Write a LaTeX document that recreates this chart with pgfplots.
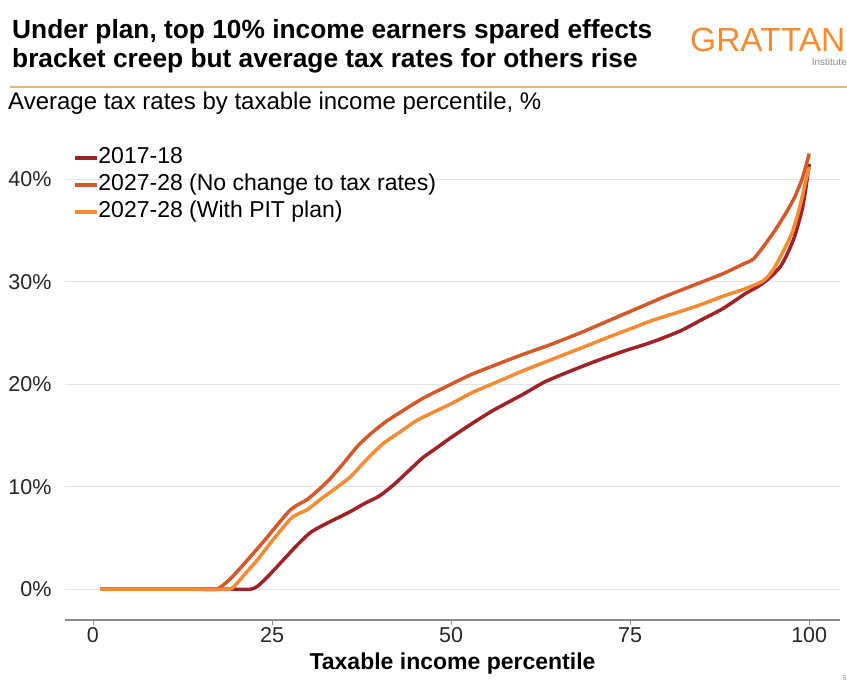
\documentclass[border=0pt]{standalone}
\usepackage{pgfplots}
\pgfplotsset{compat=1.18}
\usepackage{fontspec}
\setmainfont{Liberation Sans}
\definecolor{gred}{HTML}{A02226}
\definecolor{gdorange}{HTML}{D4582A}
\definecolor{gorange}{HTML}{F68B33}
\definecolor{grule}{HTML}{E9B56E}
\definecolor{ggrid}{HTML}{E4E4E4}
\definecolor{gaxis}{HTML}{8C8C8C}
\begin{document}
\begin{tikzpicture}
\useasboundingbox (0,0) rectangle (847bp,689bp);
% title
\node[anchor=base west, font=\fontsize{26.3bp}{30bp}\selectfont\bfseries, inner sep=0pt] at (12bp,650bp)
  {Under plan, top 10\% income earners spared effects};
\node[anchor=base west, font=\fontsize{26.3bp}{30bp}\selectfont\bfseries, inner sep=0pt] at (12bp,621bp)
  {bracket creep but average tax rates for others rise};
\node[anchor=base west, font=\fontsize{33.5bp}{34bp}\selectfont, text=gorange, inner sep=0pt] at (690bp,637bp) {GRATTAN};
\node[anchor=base east, font=\fontsize{10bp}{10bp}\selectfont, text=gaxis, inner sep=0pt] at (847bp,623bp) {Institute};
\draw[grule, line width=1.6bp] (10bp,602bp) -- (847bp,602bp);
\node[anchor=base west, font=\fontsize{24bp}{27bp}\selectfont, inner sep=0pt] at (8bp,579bp)
  {Average tax rates by taxable income percentile, \%};
\node[anchor=east, font=\fontsize{7bp}{7bp}\selectfont, text=gaxis, inner sep=0pt] at (847bp,11bp) {5};
\begin{axis}[
  at={(65bp,69bp)}, anchor=south west,
  scale only axis, width=775bp, height=492bp,
  xmin=-3.9, xmax=104.3, ymin=-3, ymax=45,
  axis x line*=bottom, axis y line*=left,
  y axis line style={draw=none},
  x axis line style={draw=gaxis, line width=1.2bp},
  xtick={0,25,50,75,100}, ytick={0,10,20,30,40},
  xtick style={draw=gaxis, line width=0.8bp},
  tick align=outside, major tick length=5bp,
  ytick style={draw=none},
  ymajorgrids, grid style={draw=ggrid, line width=0.8bp},
  yticklabel={\pgfmathprintnumber{\tick}\%},
  /pgf/number format/assume math mode=true,
  tick label style={font=\fontsize{21.5bp}{24bp}\selectfont, text=black!85},
  yticklabel style={xshift=-5bp},
  xticklabel style={yshift=1bp},
  xlabel={Taxable income percentile},
  xlabel style={at={(axis description cs:0.5,0)}, anchor=center, yshift=-44bp,
    font=\fontsize{23bp}{26bp}\selectfont\bfseries},
  legend style={at={(rel axis cs:0.01,0.962)}, anchor=north west, draw=none, fill=none,
    font=\fontsize{23bp}{26bp}\selectfont, row sep=5bp, inner sep=0pt,
    nodes={inner sep=0pt, text height=17bp, text depth=5bp},
    /tikz/every even column/.append style={column sep=3bp}},
  legend cell align=left,
  legend image code/.code={\draw[#1, line width=3.5bp] (0bp,0bp) -- (22bp,0bp);},
  every axis plot/.append style={line width=3.5bp, line join=round, smooth, tension=0.4},
]
\addplot[gred] coordinates {
(1,0) (5,0) (10,0) (15,0) (20,0) (22,0) (23,0.3) (24.5,1.3) (26.5,2.8) (28.5,4.3) (30.3,5.5) (32,6.2) (34,6.9) (36,7.6) (38,8.4) (40,9.1) (42,10.2) (44,11.5) (46,12.8) (48,13.8) (50,14.8) (53,16.2) (56,17.5) (60,19.0) (63,20.2) (66,21.1) (70,22.2) (74,23.2) (78,24.1) (82,25.2) (85,26.3) (88,27.4) (91,28.8) (93,29.6) (94.5,30.4) (96,31.5) (97,32.8) (98,34.5) (99,37) (99.5,39) (100,41.5)
};
\addlegendentry{2017-18}
\addplot[gdorange] coordinates {
(1,0) (5,0) (10,0) (15,0) (17.3,0) (19,0.9) (20.5,2.0) (22,3.2) (24,4.8) (26,6.5) (27.5,7.7) (28.5,8.2) (30,8.8) (31.5,9.7) (33,10.7) (35,12.3) (37,14) (39,15.3) (41,16.4) (43,17.3) (46,18.6) (50,20.0) (53,21.0) (57,22.1) (60,22.9) (64,23.9) (68,25.0) (72,26.2) (76,27.4) (78,28.0) (80,28.6) (84,29.7) (88,30.8) (91,31.8) (92.2,32.2) (94,33.8) (95.5,35.3) (97,37.0) (98,38.3) (99,40.0) (99.5,41.2) (100,42.5)
};
\addlegendentry{2027-28 (No change to tax rates)}
\addplot[gorange] coordinates {
(1,0) (5,0) (10,0) (15,0) (19,0) (20,0.5) (21,1.3) (23,2.9) (25,4.7) (27.5,6.8) (28.5,7.3) (30,7.8) (32,8.9) (34,9.9) (36,11.0) (38,12.5) (40.5,14.2) (43,15.4) (45.3,16.5) (50,18.1) (53,19.2) (57,20.4) (60,21.3) (64,22.4) (68.4,23.6) (72,24.6) (75,25.4) (78,26.2) (82,27.1) (85,27.8) (88,28.6) (91,29.3) (93.6,30.1) (95,31.2) (96.4,33.0) (97.5,34.6) (98.3,36.3) (99,38.2) (99.5,39.8) (100,41.2)
};
\addlegendentry{2027-28 (With PIT plan)}
\end{axis}
\end{tikzpicture}
\end{document}
